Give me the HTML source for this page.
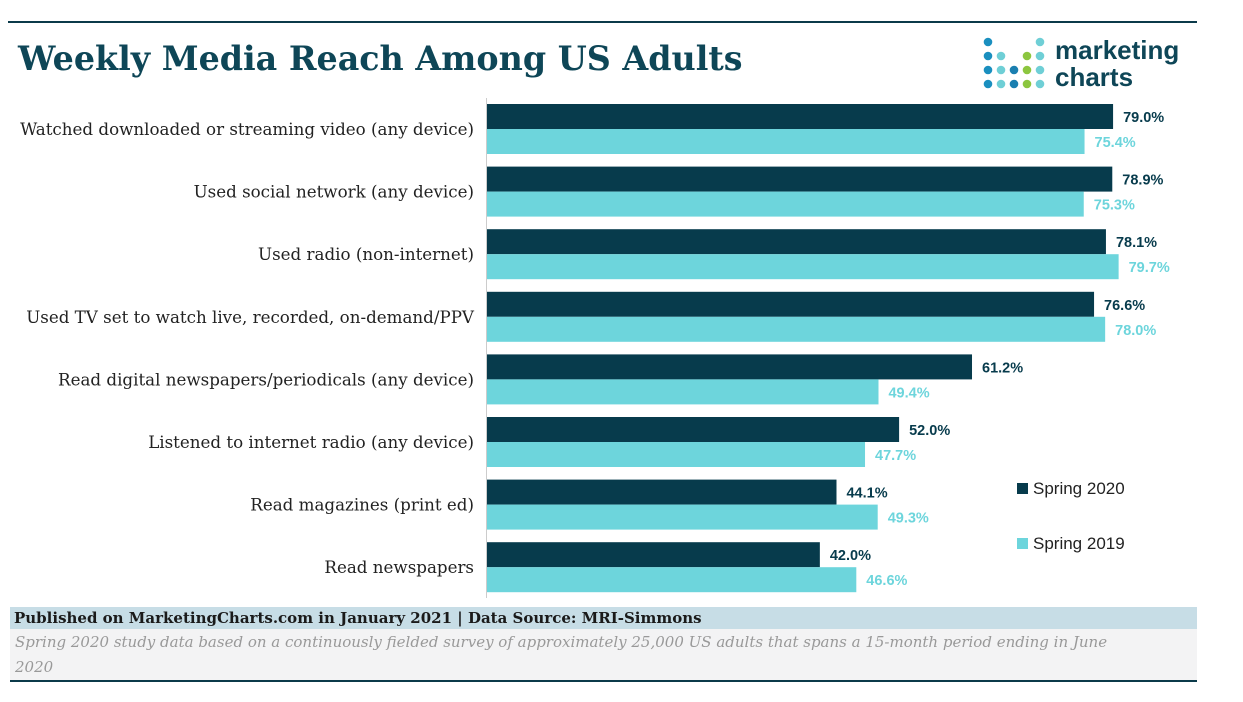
<!DOCTYPE html>
<html><head><meta charset="utf-8"><style>
body{margin:0;width:1243px;height:702px;background:#fff;overflow:hidden;position:relative;font-family:"DejaVu Serif",serif}
.abs{position:absolute}
</style></head><body>
<div class="abs" style="left:8px;top:21px;width:1189px;height:2px;background:#0b3a4a"></div>
<div class="abs" style="left:18px;top:39px;font-size:33.3px;font-weight:bold;color:#0e4657;white-space:nowrap">Weekly Media Reach Among US Adults</div>
<svg class="abs" style="left:975px;top:30px" width="220" height="65">
<g id="dots"></g>
<text x="80" y="29" font-family="Liberation Sans,sans-serif" font-weight="bold" font-size="26" fill="#0e4657">marketing</text>
<text x="80" y="56" font-family="Liberation Sans,sans-serif" font-weight="bold" font-size="26" fill="#0e4657">charts</text>
</svg>
<svg class="abs" id="chart" style="left:0;top:0" width="1243" height="600"></svg>
<div class="abs" style="left:1017px;top:479px;font-size:17px;color:#222;font-family:'Liberation Sans',sans-serif"><span style="display:inline-block;width:11px;height:11px;background:#073b4c;margin-right:5px"></span>Spring 2020</div>
<div class="abs" style="left:1017px;top:534px;font-size:17px;color:#222;font-family:'Liberation Sans',sans-serif"><span style="display:inline-block;width:11px;height:11px;background:#6dd5dc;margin-right:5px"></span>Spring 2019</div>
<div class="abs" style="left:10px;top:607px;width:1187px;height:22px;background:#c7dde6;font-size:15px;font-weight:bold;color:#1a1a1a;line-height:22px;padding-left:4px;box-sizing:border-box;white-space:nowrap">Published on MarketingCharts.com in January 2021 | Data Source: MRI-Simmons</div>
<div class="abs" style="left:10px;top:629px;width:1187px;height:51px;background:#f3f3f4;font-size:15px;font-style:italic;color:#999;line-height:25px;padding:1px 0 0 5px;box-sizing:border-box;white-space:nowrap">Spring 2020 study data based on a continuously fielded survey of approximately 25,000 US adults that spans a 15-month period ending in June<br>2020</div>
<div class="abs" style="left:10px;top:680px;width:1187px;height:2px;background:#0b3a4a"></div>
<script>
const categories=["Watched downloaded or streaming video (any device)","Used social network (any device)","Used radio (non-internet)","Used TV set to watch live, recorded, on-demand/PPV","Read digital newspapers/periodicals (any device)","Listened to internet radio (any device)","Read magazines (print ed)","Read newspapers"];
const spring2020=[79.0,78.9,78.1,76.6,61.2,52.0,44.1,42.0];
const spring2019=[75.4,75.3,79.7,78.0,49.4,47.7,49.3,46.6];
const NS="http://www.w3.org/2000/svg";
const svg=document.getElementById('chart');
const x0=487,scale=7.925,top0=104,pitch=62.6,bh=25;
const xs=v=>v*scale;
function mk(t,a){const e=document.createElementNS(NS,t);for(const k in a)e.setAttribute(k,a[k]);svg.appendChild(e);return e;}
const ax=mk('line',{x1:x0-0.5,x2:x0-0.5,y1:98,y2:598,stroke:'#ccc','stroke-width':1});


categories.forEach((c,i)=>{
  const y=top0+i*pitch;
  const l=mk('text',{x:474,y:y+bh+6,'text-anchor':'end','font-size':16.7,'font-family':'DejaVu Serif,serif',fill:'#222'});
  l.textContent=c;
  
  
  [[spring2020[i],'#073b4c','#073b4c',0],[spring2019[i],'#6dd5dc','#6dd5dc',bh]].forEach(([v,col,tc,off],j)=>{
    const r=mk('rect',{x:x0,y:y+off,width:xs(v),height:bh,fill:col});
    
    
    const t=mk('text',{x:x0+xs(v)+10,y:y+off+18,'font-size':14.5,'font-weight':'bold','font-family':'Liberation Sans,sans-serif',fill:tc});
    t.textContent=v.toFixed(1)+'%';
    
    
  });
});
const g=document.getElementById('dots');
const cols=['#1a8fbf','#6fcfd6','#1a7fb0','#8cc63f','#6fcfd6'];
const pat=[[1,0,0,0,1],[1,1,0,1,1],[1,1,1,1,1],[1,1,1,1,1]];
pat.forEach((row,r)=>row.forEach((on,c)=>{if(on){const d=document.createElementNS(NS,'circle');d.setAttribute('cx',13+c*13);d.setAttribute('cy',12+r*14);d.setAttribute('r',4.3);d.setAttribute('fill',cols[c]);g.appendChild(d);}}));
</script>
</body></html>
